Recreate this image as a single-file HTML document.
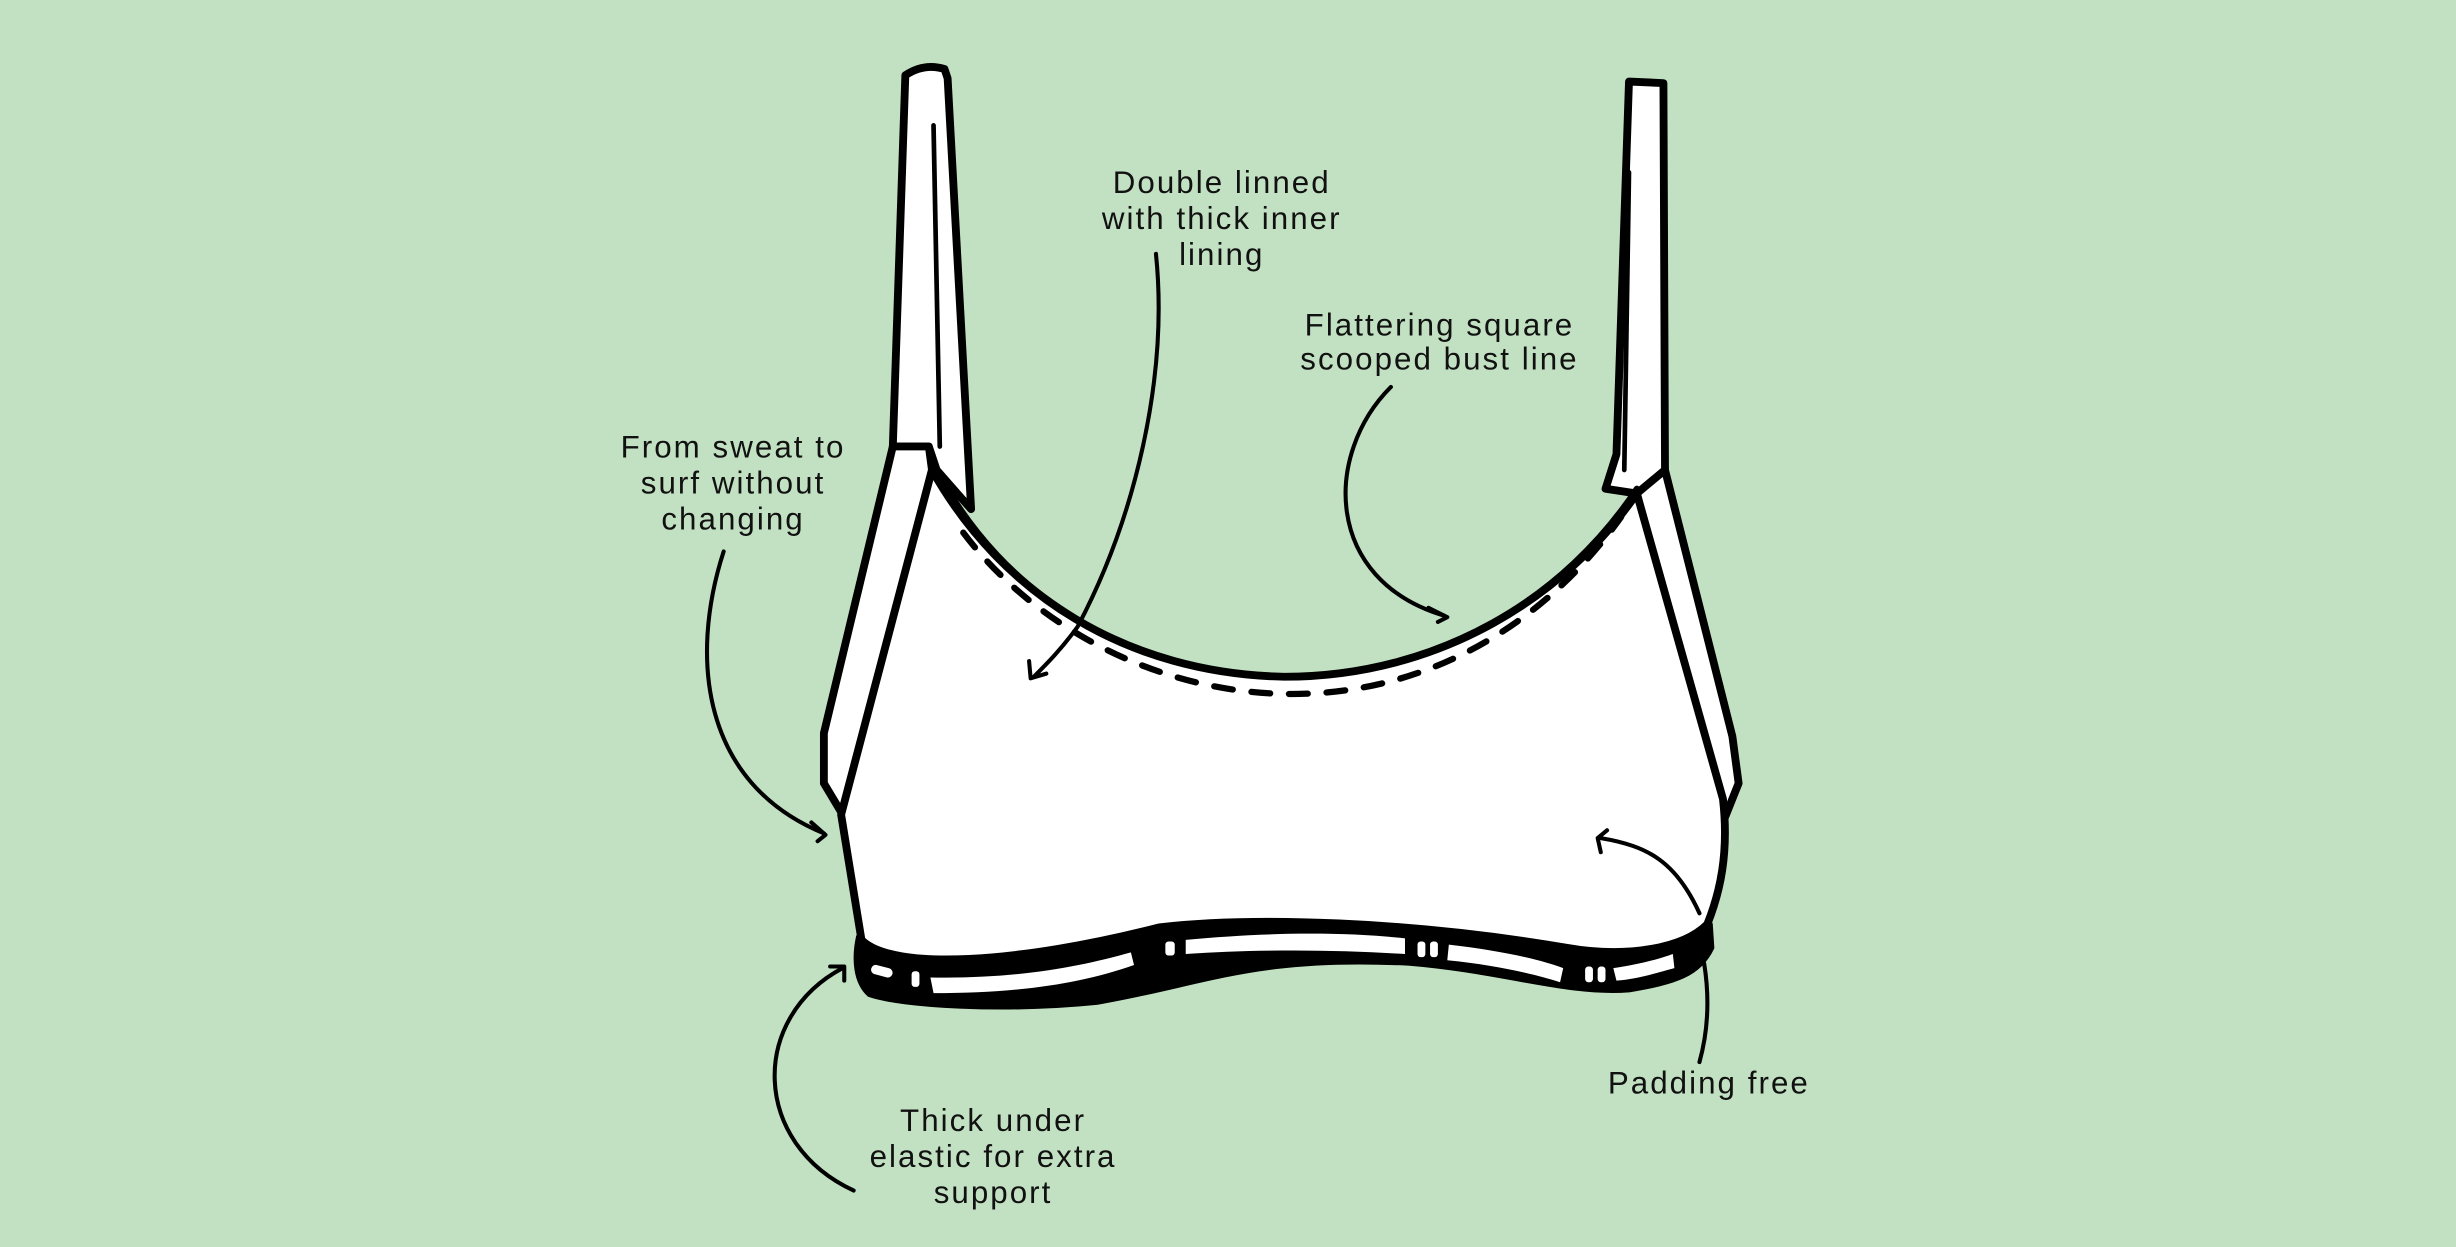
<!DOCTYPE html>
<html><head><meta charset="utf-8">
<style>
html,body{margin:0;padding:0;background:#c2e1c2;}
svg{display:block;}
text{font-family:"Liberation Sans",sans-serif;font-size:20px;letter-spacing:1.3px;fill:#111;text-anchor:middle;}
</style></head><body>
<svg width="2456" height="1247" viewBox="0 0 1568 796" xmlns="http://www.w3.org/2000/svg">
<rect width="1568" height="796" fill="#c2e1c2"/>
<g stroke="#000" stroke-linejoin="round" stroke-linecap="round">
<!-- straps -->
<path d="M578,48 Q590,40 603,44 L605,50 L620,325 L598,300 L593,285 L570,285 Z" fill="#fff" stroke-width="5"/>
<path d="M596,80 L600,285" fill="none" stroke-width="3"/>
<path d="M1040,52 L1062,53 L1063,300 L1045,315 L1025,312 L1032,290 Z" fill="#fff" stroke-width="5"/>
<path d="M1040,110 L1037,300" fill="none" stroke-width="3"/>
<!-- side strips -->
<path d="M570,285 L526,468 L526,500 L538,520 L595,300 L593,285 Z" fill="#fff" stroke-width="5"/>
<path d="M1063,300 L1106,470 L1110,500 L1100,525 L1045,315 Z" fill="#fff" stroke-width="5"/>
<!-- body -->
<path d="M595,300 C640,380 720,430 820,432 C920,432 1000,380 1045,315 L1100,510 C1104,545 1098,570 1090,590 C1075,605 1040,612 1000,605 C900,588 800,585 740,592 C650,615 570,620 550,600 L537,520 Z" fill="#fff" stroke-width="5"/>
<!-- neckline -->
<path d="M598,300 C640,380 720,430 820,432 C920,432 1000,380 1045,312" fill="none" stroke-width="4"/>
<!-- dashed -->
<path d="M615,340 C660,400 740,443 825,443 C910,443 985,400 1035,330" fill="none" stroke-width="4" stroke-dasharray="12,12"/>
<!-- bottom band -->
<path d="M548,598 C570,620 650,615 740,592 C800,585 900,588 1000,605 C1040,612 1075,605 1092,590 L1093,605 C1085,622 1070,627 1040,632 C1000,635 960,620 900,615 C800,610 770,628 700,640 C640,646 575,642 555,635 C546,627 545,612 548,598 Z" fill="#000" stroke-width="3"/>
<g fill="#fff" stroke="none">
<rect x="556" y="617" width="14" height="6" rx="3" transform="rotate(15 563 620)"/>
<rect x="582" y="620" width="5" height="10" rx="2"/>
<path d="M594,624 C650,625 690,617 722,608 L724,616 C690,628 650,634 596,634 Z"/>
<path d="M757,600 C800,596 850,594 897,599 L897,609 C850,606 800,606 757,609 Z"/>
<rect x="744" y="601" width="6" height="9" rx="2"/>
<rect x="905" y="601" width="5" height="10" rx="2"/>
<rect x="913" y="601" width="5" height="10" rx="2"/>
<path d="M925,603 C960,607 985,613 998,618 L996,627 C980,622 955,616 924,613 Z"/>
<rect x="1012" y="617" width="5" height="10" rx="2"/>
<rect x="1020" y="617" width="5" height="10" rx="2"/>
<path d="M1030,618 C1045,616 1060,612 1068,609 L1069,618 C1058,621 1045,625 1032,626 Z"/>
</g>
<!-- arrows -->
<g fill="none" stroke-width="2.6">
<path d="M738,162 C746,240 725,330 688,400 C678,414 668,424 660,432"/>
<path d="M657,422 L658,433 L668,430"/>
<path d="M888,247 C845,290 845,370 922,393"/>
<path d="M912,388 L924,394 L918,397"/>
<path d="M462,352 C440,420 448,500 526,532"/>
<path d="M518,525 L527,533 L522,537"/>
<path d="M1085,583 C1070,550 1052,540 1022,535"/>
<path d="M1026,530 L1020,535 L1022,544"/>
<path d="M1088,615 C1092,640 1090,660 1085,678"/>
<path d="M545,760 C480,730 478,650 538,618"/>
<path d="M530,617 L539,617 L539,626"/>
</g>
</g>
<text x="780" y="123">Double linned</text>
<text x="780" y="146">with thick inner</text>
<text x="780" y="169">lining</text>
<text x="919" y="214">Flattering square</text>
<text x="919" y="236">scooped bust line</text>
<text x="468" y="292">From sweat to</text>
<text x="468" y="315">surf without</text>
<text x="468" y="338">changing</text>
<text x="1091" y="698">Padding free</text>
<text x="634" y="722">Thick under</text>
<text x="634" y="745">elastic for extra</text>
<text x="634" y="768">support</text>
</svg>
</body></html>
